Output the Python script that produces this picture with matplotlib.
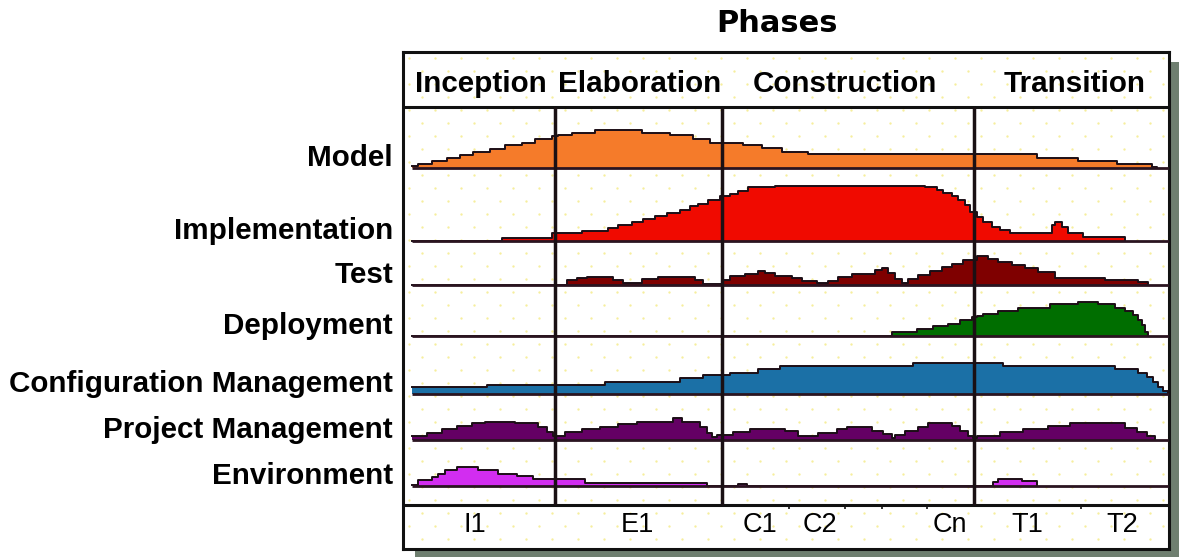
import matplotlib
matplotlib.use("Agg")
import matplotlib.pyplot as plt
from matplotlib.patches import Rectangle
import numpy as np

W, H = 1179, 558

# --- DATA (day offsets along the project, effort level per step) ---
disciplines = ["Model", "Implementation", "Test", "Deployment",
               "Configuration Management", "Project Management", "Environment"]

model_t = [0, 6, 20, 35, 48, 61, 78, 93, 110, 123, 140, 146, 160, 183, 230, 258,
           281, 298, 331, 350, 370, 396, 625, 666, 705, 740, 745]
model_h = [2, 4, 7, 10, 13, 16, 19, 23, 25, 29, 32, 33, 35, 38, 35, 33,
           29, 25, 23, 20, 16, 14, 10, 7, 4, 1, 0]

impl_t = [0, 90, 140, 170, 196, 206, 220, 231, 243, 255, 268, 278, 286, 296, 308,
          318, 326, 336, 363, 513, 525, 531, 540, 546, 553, 558, 565, 571, 580,
          588, 598, 640, 643, 650, 656, 671, 713]
impl_h = [0, 3, 8, 10, 13, 16, 19, 22, 25, 28, 31, 35, 37, 41, 45,
          47, 50, 54, 55, 54, 51, 48, 45, 41, 36, 29, 24, 19, 14,
          11, 8, 16, 19, 14, 8, 4, 0]

test_t = [0, 155, 165, 175, 201, 211, 230, 246, 283, 291, 311, 318, 333, 346, 353,
          363, 380, 390, 405, 416, 426, 440, 463, 470, 476, 483, 490, 496, 506,
          518, 530, 540, 551, 565, 576, 586, 600, 613, 626, 643, 693, 726, 736]
test_h = [0, 5, 7, 8, 5, 2, 6, 8, 5, 1, 5, 9, 11, 14, 12,
          9, 7, 4, 2, 4, 8, 11, 15, 17, 12, 6, 2, 6, 10,
          14, 18, 21, 25, 29, 26, 23, 20, 17, 13, 7, 5, 3, 0]

deploy_t = [0, 480, 505, 521, 536, 548, 560, 565, 571, 586, 606, 638, 666, 686,
            703, 713, 721, 726, 730, 733, 736]
deploy_h = [0, 4, 7, 10, 12, 16, 19, 20, 22, 25, 28, 32, 34, 32,
            28, 25, 21, 16, 11, 4, 0]

config_t = [0, 75, 193, 268, 291, 318, 346, 368, 501, 591, 703, 726, 735, 741,
            746, 751, 756]
config_h = [7, 9, 12, 16, 19, 21, 25, 28, 31, 28, 25, 21, 17, 12,
            7, 3, 0]

pm_t = [0, 15, 30, 45, 60, 73, 103, 126, 135, 141, 153, 170, 188, 206, 225, 261,
        270, 288, 295, 300, 305, 321, 338, 373, 386, 406, 425, 435, 460, 471,
        480, 483, 493, 506, 516, 540, 548, 556, 561, 565, 588, 611, 636, 658,
        713, 725, 735, 743]
pm_h = [4, 7, 11, 14, 17, 18, 17, 13, 8, 4, 8, 11, 13, 16, 18, 22,
        18, 13, 7, 3, 5, 8, 11, 9, 4, 7, 11, 13, 9, 6,
        2, 5, 9, 13, 17, 14, 9, 4, 2, 4, 8, 11, 14, 17,
        12, 8, 4, 0]

env_t = [0, 6, 20, 26, 33, 45, 66, 86, 105, 121, 173, 295, 326, 335, 581, 586,
         610, 625]
env_h = [1, 6, 9, 12, 16, 19, 16, 12, 10, 7, 3, 0, 2, 0, 4, 7,
         5, 0]

phase_names = ["Inception", "Elaboration", "Construction", "Transition"]
phase_label_day = [69, 228, 433, 663]
phase_bounds = [143, 310, 562]

iterations = ["I1", "E1", "C1", "C2", "Cn", "T1", "T2"]
iteration_day = [63, 225, 348, 408, 538, 615, 710]
iteration_ticks = [377, 433, 470, 515, 669]

# --- STYLE / LAYOUT ---
colors = ["#f57b2a", "#f00a00", "#7f0000", "#006e00", "#1b70a6", "#640064", "#d22df0"]
lane_base = [168, 240.5, 284.5, 336, 393.5, 440, 486]
edge = "#1c0e16"
series = [(model_t, model_h), (impl_t, impl_h), (test_t, test_h),
          (deploy_t, deploy_h), (config_t, config_h), (pm_t, pm_h), (env_t, env_h)]

fig = plt.figure(figsize=(W / 100, H / 100), dpi=100)
fig.patch.set_facecolor("white")

# drop shadow behind the frame
fig.add_artist(Rectangle((415 / W, 1 - 557 / H), (1179 - 415) / W, (557 - 62) / H,
                         transform=fig.transFigure, facecolor="#6f7f70",
                         edgecolor="none", zorder=0))

ax = fig.add_axes([403 / W, 1 - 549 / H, (1169 - 403) / W, (549 - 52) / H])
ax.set_zorder(1)
ax.set_facecolor("white")
ax.set_xlim(-9, 757)
ax.set_ylim(549, 52)
ax.set_xticks([])
ax.set_yticks([])
for s in ax.spines.values():
    s.set_linewidth(2.2)
    s.set_color("#111111")

# faint yellow dot texture
for i, yy in enumerate(np.arange(58, 548, 13)):
    xx = np.arange(-3 + (i % 2) * 13, 757, 26)
    ax.plot(xx, np.full_like(xx, yy, dtype=float), ".", color="#f6ee9c",
            markersize=1.4, zorder=0.5)

# header and footer bands
ax.axhline(107, color="#111111", lw=2.2, zorder=4)
ax.axhline(504.5, color="#111111", lw=2.2, zorder=4)
ax.vlines(phase_bounds, 107, 504.5, color="#1a1014", lw=2.5, zorder=5)
ax.vlines(iteration_ticks, 504.5, 509, color="#111111", lw=1.2, zorder=4)

# lane baselines
ax.hlines(lane_base, 0, 757, color="#2a1420", lw=2, zorder=4)

for (t, h), base, c in zip(series, lane_base, colors):
    t = np.array(t, dtype=float)
    top = base - np.array(h, dtype=float)
    ax.fill_between(t, base, top, step="post", facecolor=c, edgecolor="none",
                    lw=0, zorder=2)
    ax.step(t, top, where="post", color=edge, lw=1.4, zorder=3)

lab_font = dict(family="Liberation Sans", weight="bold", fontsize=21.3)
for name, base in zip(disciplines, lane_base):
    ax.text(-19, base - 1.5, name, ha="right", va="baseline", clip_on=False, **lab_font)

for name, d in zip(phase_names, phase_label_day):
    ax.text(d, 92, name, ha="center", va="baseline", **lab_font)

for name, d in zip(iterations, iteration_day):
    ax.text(d, 532, name, ha="center", va="baseline", family="Liberation Sans",
            fontsize=19.5)

ax.text(365, 32, "Phases", ha="center", va="baseline", clip_on=False,
        family="DejaVu Sans", weight="bold", fontsize=22)

fig.savefig("out.png", dpi=100)
